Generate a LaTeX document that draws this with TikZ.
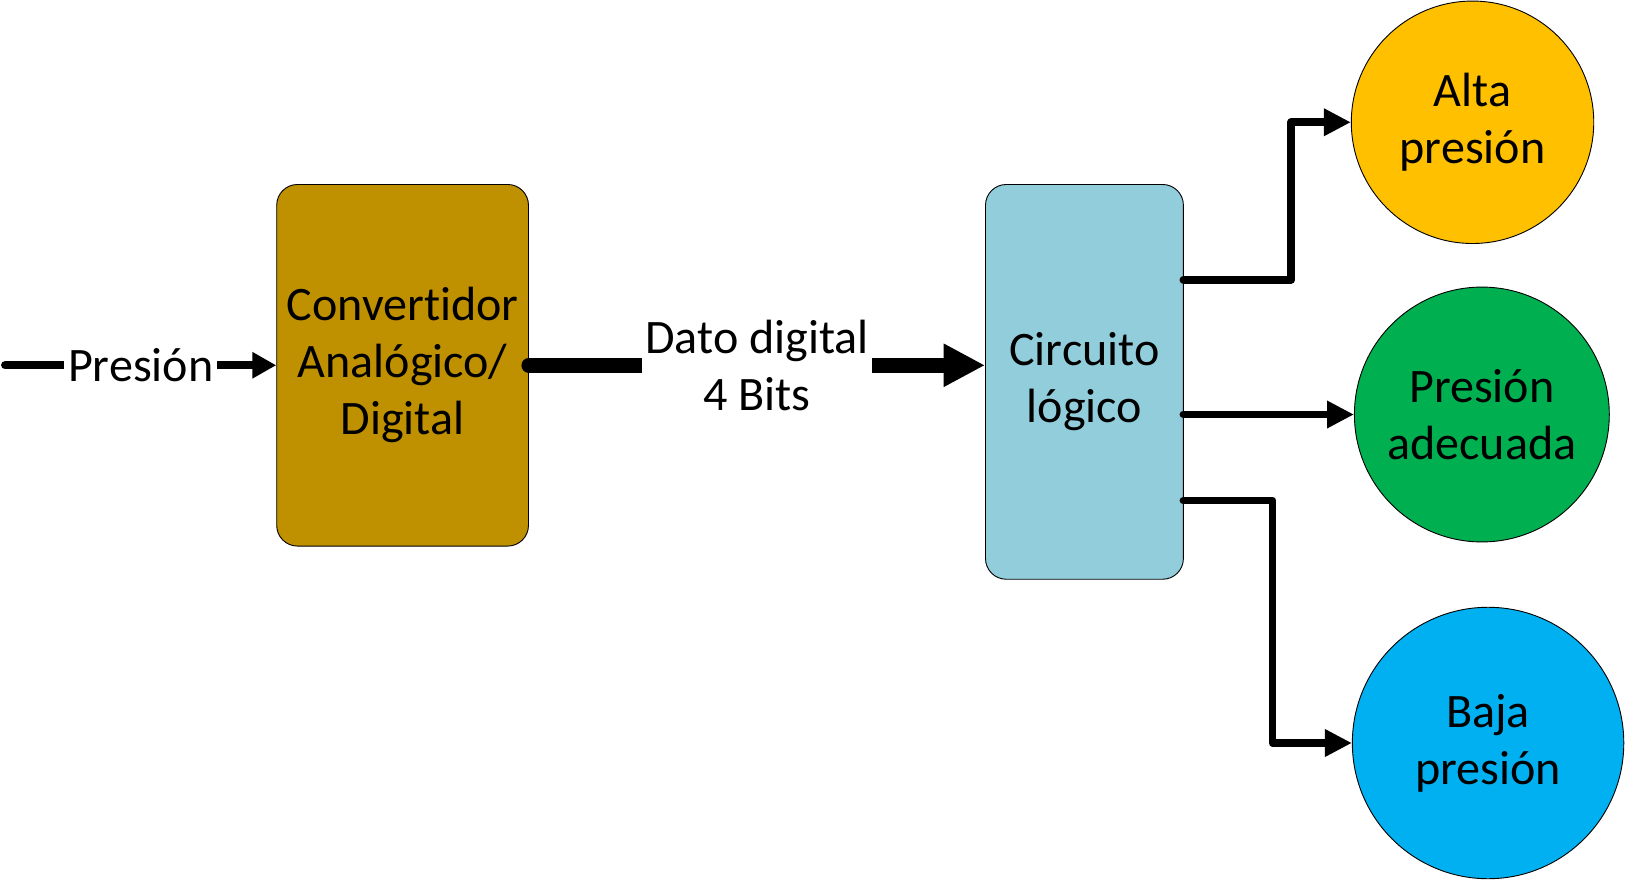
\documentclass[tikz,border=0pt]{standalone}
\usepackage{fontspec}
\setmainfont[Ligatures=NoCommon]{Carlito}
\usetikzlibrary{arrows.meta}
\definecolor{convfill}{HTML}{BF9000}
\definecolor{logicfill}{HTML}{92CDDC}
\definecolor{altafill}{HTML}{FFC000}
\definecolor{adecfill}{HTML}{00B050}
\definecolor{bajafill}{HTML}{00B0F0}
\begin{document}
\begin{tikzpicture}[
    x=0.02cm, y=-0.02cm,
    every node/.style={font=\fontsize{26.4}{31.3}\selectfont},
    box/.style={rectangle, draw, line width=0.5pt, rounded corners=0.4cm, align=center, inner sep=0pt},
    conv/.style={box, fill=convfill, minimum width=4.86cm, minimum height=6.98cm},
    logic/.style={box, fill=logicfill, minimum width=3.82cm, minimum height=7.62cm},
    salida/.style={circle, draw, line width=0.5pt, align=center, inner sep=0pt},
    etiqueta/.style={fill=white, inner sep=2pt, align=center},
    arrow/.style={line width=0.16cm, line cap=round, -{Triangle[length=0.46cm, width=0.48cm]}},
    bus/.style={line width=0.29cm, line cap=round, -{Triangle[length=0.8cm, width=0.78cm]}},
    outarrow/.style={line width=0.15cm, line cap=round, line join=round, -{Triangle[length=0.52cm, width=0.5cm]}}
]
\useasboundingbox (0,0) rectangle (1572,851);

% Blocks
\node[conv] (adc) at (388.5,352.5) {Convertidor\\Anal\'ogico/\\Digital};
\node[logic] (logico) at (1046.5,368.5) {Circuito\\l\'ogico};

% Outputs
\node[salida, fill=altafill, minimum size=4.68cm] (alta) at (1421,118) {Alta\\presi\'on};
\node[salida, fill=adecfill, minimum size=4.92cm] (adecuada) at (1430,400) {Presi\'on\\adecuada};
\node[salida, fill=bajafill, minimum size=5.24cm] (baja) at (1436,717) {Baja\\presi\'on};

% Connections
\coordinate (entrada) at (5,352.5);
\draw[arrow] (entrada) -- node[etiqueta] {Presi\'on} (adc.west);
\draw[bus] (adc.east) -- node[etiqueta] {Dato digital\\4 Bits} (adc.east -| logico.west);

\coordinate (o1) at (1142,270);
\coordinate (o2) at (1142,400);
\coordinate (o3) at (1142,483);
\draw[outarrow] (o1) -- ++(104,0) |- (alta.west);
\draw[outarrow] (o2) -- (adecuada.west);
\draw[outarrow] (o3) -- ++(86,0) |- (baja.west);

\end{tikzpicture}
\end{document}
